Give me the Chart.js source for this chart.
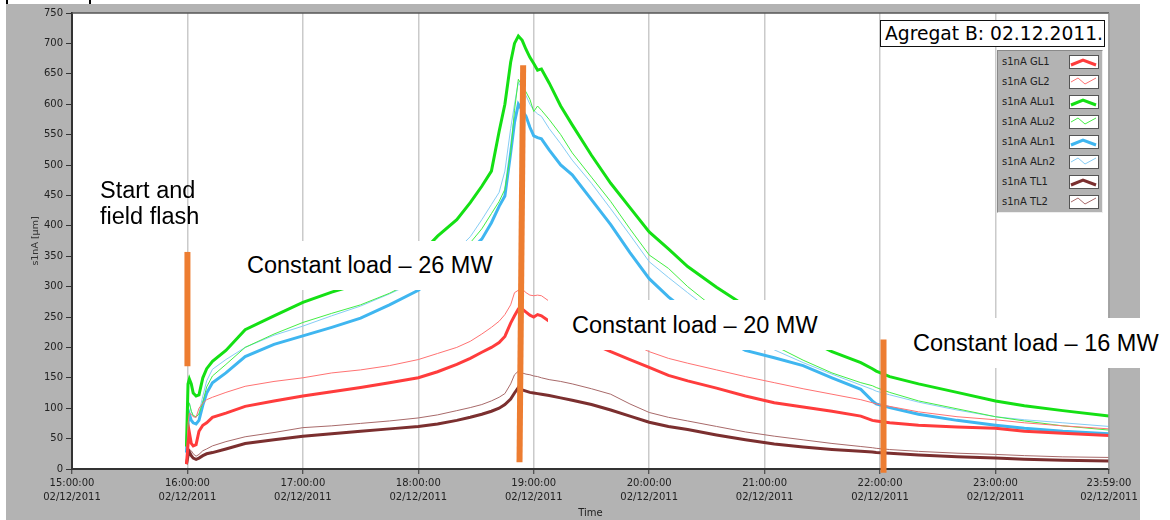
<!DOCTYPE html>
<html>
<head>
<meta charset="utf-8">
<title>Agregat B: 02.12.2011.</title>
<script src="https://cdn.jsdelivr.net/npm/chart.js@4.4.1/dist/chart.umd.min.js"></script>
<style>
  body { margin: 0; background: #fff; }
  #wrap { position: relative; width: 1170px; height: 520px; overflow: hidden; }
  #chart { position: absolute; left: 0; top: 0; }
  .note { position: absolute; font-family: 'Liberation Sans', Arial, sans-serif; font-size: 23.5px; color: #000; white-space: nowrap; }
  .box { background: #fff; box-sizing: border-box; }
  #title { position: absolute; left: 880px; top: 20px; width: 225px; height: 27px; box-sizing: border-box;
           border: 1px solid #111; background: #fff; font-family: 'DejaVu Sans', sans-serif; font-size: 18.7px;
           line-height: 25px; padding-left: 4px; white-space: nowrap; color: #000; }
  #legend { position: absolute; left: 997px; top: 50px; width: 106px; height: 163px; box-sizing: border-box;
            background: #b3b3b3; border: 1px solid #8a8a8a; border-right-color: #eee; border-bottom-color: #eee; }
  .row { position: absolute; left: 4px; height: 20px; width: 100px; font-family: 'DejaVu Sans', sans-serif;
         font-size: 10px; line-height: 20px; color: #222; white-space: nowrap; }
  .row svg { position: absolute; left: 67px; top: 3px; }
</style>
</head>
<body>
<div id="wrap">
  <canvas id="chart" width="1170" height="520"></canvas>

  <div class="note" style="left:100px; top:177px; line-height:26px;">Start and<br>field flash</div>
  <div class="note box" style="left:237px; top:241px; width:273px; height:49px; line-height:49px; padding-left:10px;">Constant load – 26 MW</div>
  <div class="note box" style="left:548px; top:300px; width:287px; height:50px; line-height:50px; padding-left:24px;">Constant load – 20 MW</div>
  <div class="note box" style="left:895px; top:318px; width:275px; height:50px; line-height:50px; padding-left:18px;">Constant load – 16 MW</div>

  <div id="title">Agregat B: 02.12.2011.</div>
  <div id="legend"></div>
</div>

<script>
// vrijeme u minutama od 15:00:00
const times = [59.5, 60.3, 61, 62, 63, 64.5, 66, 68, 70, 73,
  80, 90, 105, 120, 135, 150, 165, 180, 190, 200,
  207, 213, 218, 222, 225, 228, 230, 232, 234, 236,
  238, 240, 242, 244, 248, 254, 260, 270, 280, 290,
  300, 310, 320, 335, 350, 365, 380, 395, 410, 416,
  418, 425, 440, 460, 480, 495, 515, 539];

const gl1 = [8, 40, 60, 42, 38, 40, 62, 72, 76, 85,
  92, 103, 112, 120, 127, 134, 142, 150, 160, 172,
  182, 192, 200, 208, 218, 240, 252, 263, 263, 258,
  253, 250, 254, 252, 243, 233, 223, 207, 193, 180,
  167, 154, 145, 133, 120, 109, 102, 95, 87, 80,
  79, 76, 72, 69, 67, 62, 59, 55];

const gl2 = [20, 75, 92, 90, 86, 85, 100, 108, 114, 118,
  126, 136, 144, 150, 158, 163, 170, 180, 190, 200,
  210, 222, 233, 243, 254, 270, 290, 294, 296, 290,
  286, 285, 286, 285, 276, 266, 256, 240, 224, 208,
  193, 182, 174, 163, 152, 142, 132, 123, 114, 109,
  107, 103, 94, 86, 81, 76, 71, 66];

const alu1 = [37, 140, 148, 140, 125, 120, 122, 150, 165, 177,
  195, 229, 252, 274, 291, 305, 325, 350, 383, 410,
  438, 465, 490, 555, 600, 669, 700, 712, 705, 690,
  677, 667, 656, 658, 635, 597, 566, 516, 470, 430,
  390, 362, 333, 299, 268, 243, 217, 193, 175, 165,
  161, 152, 140, 126, 112, 104, 96, 87];

const alu2 = [40, 100, 108, 95, 88, 86, 90, 110, 135, 153,
  172, 200, 222, 241, 256, 270, 289, 313, 335, 358,
  372, 395, 420, 440, 460, 520, 590, 641, 630, 620,
  608, 588, 597, 590, 575, 550, 520, 480, 440, 395,
  352, 330, 300, 262, 232, 203, 179, 158, 142, 137,
  134, 126, 112, 99, 86, 79, 71, 64];

const aln1 = [27, 75, 90, 80, 76, 74, 80, 105, 125, 142,
  158, 185, 205, 219, 233, 248, 270, 294, 318, 342,
  360, 378, 405, 432, 449, 520, 570, 600, 590, 580,
  562, 548, 545, 543, 525, 500, 484, 443, 402, 356,
  313, 283, 258, 222, 195, 183, 170, 150, 131, 112,
  107, 101, 90, 80, 72, 67, 62, 58];

const aln2 = [30, 105, 109, 95, 87, 85, 92, 120, 145, 164,
  180, 200, 220, 235, 252, 268, 288, 310, 335, 360,
  382, 410, 435, 455, 490, 560, 600, 636, 625, 614,
  600, 590, 584, 580, 560, 535, 508, 470, 428, 385,
  341, 315, 290, 253, 224, 196, 175, 156, 138, 131,
  128, 122, 110, 97, 86, 81, 76, 70];

const tl1 = [8, 22, 28, 22, 18, 16, 18, 22, 25, 27,
  33, 42, 48, 54, 58, 62, 66, 70, 74, 80,
  85, 90, 95, 100, 106, 115, 125, 134, 130, 128,
  126, 125, 124, 123, 121, 117, 113, 106, 97, 87,
  77, 70, 65, 56, 48, 41, 36, 32, 29, 28,
  27, 26, 23, 20, 18, 16, 14.5, 13];

const tl2 = [12, 25, 32, 30, 25, 21, 24, 30, 33, 38,
  45, 53, 60, 68, 71, 75, 79, 84, 89, 96,
  101, 106, 112, 118, 124, 140, 155, 161, 158, 156,
  155, 153, 152, 150, 147, 144, 140, 132, 123, 107,
  93, 85, 79, 70, 61, 54, 48, 42, 37, 35,
  34, 32, 29, 26, 24, 22, 20, 19];

const seriesNames = ['s1nA GL1', 's1nA GL2', 's1nA ALu1', 's1nA ALu2', 's1nA ALn1', 's1nA ALn2', 's1nA TL1', 's1nA TL2'];
const seriesValues = [gl1, gl2, alu1, alu2, aln1, aln2, tl1, tl2];

// narandzaste oznake (pocetak, vrh, 22:00)
const markerTimes = [[60.0, 60.0], [232.6, 234.5], [421.8, 421.8]];
const markerValues = [[169, 357], [11, 664], [-6, 213]];

const xTickMinutes = [0, 60, 120, 180, 240, 300, 360, 420, 480, 539];
const xTickLabels = ['15:00:00', '16:00:00', '17:00:00', '18:00:00', '19:00:00', '20:00:00', '21:00:00', '22:00:00', '23:00:00', '23:59:00'];
const tickDate = '02/12/2011';

// stilovi linija
const lineStyles = [
  { color: '#ff3c3c', width: 3 },
  { color: '#ff7272', width: 1 },
  { color: '#14e014', width: 3 },
  { color: '#44ee44', width: 1 },
  { color: '#3fb6f0', width: 3 },
  { color: '#86cdf5', width: 1 },
  { color: '#7b2f2f', width: 3 },
  { color: '#a86a6a', width: 1 }
];

const datasets = seriesValues.map((vals, i) => ({
  label: seriesNames[i],
  data: times.map((t, j) => ({ x: t, y: vals[j] })),
  borderColor: lineStyles[i].color,
  borderWidth: lineStyles[i].width,
  pointRadius: 0,
  tension: 0,
  fill: false
}));

markerTimes.forEach((ts, i) => {
  datasets.push({
    label: 'marker' + i,
    data: ts.map((t, j) => ({ x: t, y: markerValues[i][j] })),
    borderColor: '#ed7d31',
    borderWidth: 6,
    borderCapStyle: 'butt',
    pointRadius: 0,
    clip: false,
    order: -1
  });
});

// pozadina i okvir kao u LabVIEW grafu
const framePlugin = {
  id: 'frame',
  beforeDraw(chart) {
    const { ctx, chartArea: a } = chart;
    ctx.save();
    ctx.fillStyle = '#fff';
    ctx.fillRect(0, 0, chart.width, chart.height);
    ctx.fillStyle = '#b3b3b3';
    ctx.fillRect(6, 4, 1134, 516);
    ctx.fillStyle = '#000';
    ctx.fillRect(6, 0, 2, 4);
    ctx.fillRect(89, 0, 2, 4);
    ctx.fillStyle = '#fff';
    ctx.fillRect(a.left, a.top, a.right - a.left, a.bottom - a.top);
    ctx.restore();
  },
  afterDraw(chart) {
    const { ctx, chartArea: a } = chart;
    ctx.save();
    ctx.strokeStyle = '#555';
    ctx.lineWidth = 1.5;
    ctx.beginPath();
    ctx.moveTo(a.left, a.top);
    ctx.lineTo(a.right, a.top);
    ctx.stroke();
    ctx.strokeStyle = '#999';
    ctx.beginPath();
    ctx.moveTo(a.right, a.top);
    ctx.lineTo(a.right, a.bottom);
    ctx.stroke();
    ctx.restore();
  }
};

const tickFont = { family: 'DejaVu Sans', size: 10 };

new Chart(document.getElementById('chart'), {
  type: 'line',
  data: { datasets },
  plugins: [framePlugin],
  options: {
    responsive: false,
    animation: false,
    events: [],
    layout: { padding: { left: 30, right: 61, top: 13, bottom: 0 } },
    plugins: { legend: { display: false }, tooltip: { enabled: false } },
    scales: {
      x: {
        type: 'linear',
        min: 0,
        max: 539,
        afterBuildTicks: s => { s.ticks = xTickMinutes.map(v => ({ value: v })); },
        afterFit: s => { s.height = 51; },
        ticks: {
          autoSkip: false,
          maxRotation: 0,
          minRotation: 0,
          padding: 2,
          color: '#222',
          font: { family: 'DejaVu Sans', size: 10, lineHeight: 1.45 },
          callback: (v, i) => [xTickLabels[i], tickDate]
        },
        grid: { color: '#cacaca', lineWidth: 1.5, tickColor: '#333', tickLength: 5, tickWidth: 1 },
        border: { color: '#333', width: 2 },
        title: { display: true, text: 'Time', color: '#222', font: tickFont, padding: { top: 0, bottom: 1 } }
      },
      y: {
        min: 0,
        max: 750,
        afterFit: s => { s.width = 42; },
        ticks: { stepSize: 50, padding: 3, color: '#222', font: tickFont },
        grid: { drawOnChartArea: false, tickColor: '#333', tickLength: 6, tickWidth: 1 },
        border: { color: '#333', width: 2 },
        title: { display: true, text: 's1nA [µm]', color: '#333', font: { family: 'DejaVu Sans', size: 9.5 }, padding: { top: 0, bottom: 0 } }
      }
    }
  }
});

// legenda
const legend = document.getElementById('legend');
seriesNames.forEach((name, i) => {
  const row = document.createElement('div');
  row.className = 'row';
  row.style.top = (1 + i * 20) + 'px';
  const st = lineStyles[i];
  const pts = st.width > 2 ? '2,10 14,5 27,10' : '2,7 9,3 16,9 27,3';
  row.innerHTML = name +
    '<svg width="30" height="14"><rect x="0.5" y="0.5" width="29" height="13" fill="#fff" stroke="#555"/>' +
    '<polyline points="' + pts + '" fill="none" stroke="' + st.color + '" stroke-width="' + st.width + '"/></svg>';
  legend.appendChild(row);
});
</script>
</body>
</html>
